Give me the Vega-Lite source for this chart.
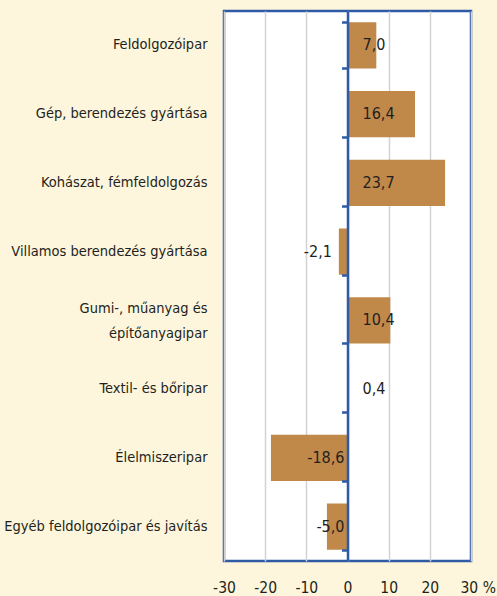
{
  "$schema": "https://vega.github.io/schema/vega-lite/v6.json",
  "width": 247,
  "height": 550,
  "autosize": {"type": "none"},
  "padding": {"left": 224, "top": 11, "right": 26, "bottom": 35},
  "background": "#FDF6DC",
  "config": {
    "view": {"stroke": "#2E5AA6", "strokeWidth": 2.5, "fill": "#FFFFFF"},
    "font": "DejaVu Sans Condensed"
  },
  "data": {
    "values": [
      {"sector": "Feldolgozóipar", "change": 7.0, "label": "7,0"},
      {"sector": "Gép, berendezés gyártása", "change": 16.4, "label": "16,4"},
      {"sector": "Kohászat, fémfeldolgozás", "change": 23.7, "label": "23,7"},
      {"sector": "Villamos berendezés gyártása", "change": -2.1, "label": "-2,1"},
      {"sector": "Gumi-, műanyag és építőanyagipar", "change": 10.4, "label": "10,4"},
      {"sector": "Textil- és bőripar", "change": 0.4, "label": "0,4"},
      {"sector": "Élelmiszeripar", "change": -18.6, "label": "-18,6"},
      {"sector": "Egyéb feldolgozóipar és javítás", "change": -5.0, "label": "-5,0"}
    ]
  },
  "resolve": {"axis": {"y": "independent"}},
  "layer": [
    {
      "mark": {"type": "bar", "color": "#C0894A"},
      "encoding": {
        "y": {
          "field": "sector", "type": "nominal", "sort": null,
          "scale": {"paddingInner": 0.33, "paddingOuter": 0.165},
          "axis": {
            "title": null, "domain": false, "ticks": false,
            "labelPadding": 17, "labelFontSize": 14.5, "labelColor": "#231F20",
            "labelFont": "DejaVu Sans Condensed", "labelLimit": 260, "labelLineHeight": 25,
            "labelOffset": {"condition": {"test": "datum.value == 'Gumi-, műanyag és építőanyagipar'", "value": -11}, "value": 0},
            "labelExpr": "datum.label == 'Gumi-, műanyag és építőanyagipar' ? ['Gumi-, műanyag és', 'építőanyagipar'] : datum.label"
          }
        },
        "x": {
          "field": "change", "type": "quantitative",
          "scale": {"domain": [-30, 30], "nice": false, "zero": false},
          "axis": {
            "title": null, "domain": false, "ticks": false,
            "values": [-30, -20, -10, 0, 10, 20, 30],
            "grid": true, "gridColor": "#D2D2D2", "gridWidth": 1.5,
            "labelFontSize": 15.5, "labelColor": "#231F20", "labelPadding": 19,
            "labelFont": "DejaVu Sans Condensed",
            "labelExpr": "datum.value == 30 ? '30 %' : toString(datum.value)",
            "labelAlign": {"condition": {"test": "datum.value == 30", "value": "left"}, "value": "center"},
            "labelOffset": {"condition": {"test": "datum.value == 30", "value": -11}, "value": 0}
          }
        }
      }
    },
    {
      "transform": [{"filter": "datum.change >= 0"}],
      "mark": {"type": "text", "align": "left", "dx": 15, "fontSize": 16, "color": "#231F20", "font": "DejaVu Sans Condensed"},
      "encoding": {
        "y": {
          "field": "sector", "type": "nominal", "sort": null,
          "axis": {
            "orient": "right", "offset": -123.5, "title": null, "labels": false,
            "domainColor": "#2E5AA6", "domainWidth": 2.5,
            "tickColor": "#2E5AA6", "tickWidth": 2.5, "tickSize": -6,
            "tickBand": "extent", "zindex": 2
          }
        },
        "x": {"datum": 0, "type": "quantitative"},
        "text": {"field": "label"}
      }
    },
    {
      "transform": [{"filter": "datum.change < 0 && datum.change > -3"}],
      "mark": {"type": "text", "align": "right", "dx": -7, "fontSize": 16, "color": "#231F20", "font": "DejaVu Sans Condensed"},
      "encoding": {
        "y": {"field": "sector", "type": "nominal", "sort": null, "axis": null},
        "x": {"field": "change", "type": "quantitative"},
        "text": {"field": "label"}
      }
    },
    {
      "transform": [{"filter": "datum.change <= -3"}],
      "mark": {"type": "text", "align": "right", "dx": -3, "fontSize": 16, "color": "#231F20", "font": "DejaVu Sans Condensed"},
      "encoding": {
        "y": {"field": "sector", "type": "nominal", "sort": null, "axis": null},
        "x": {"datum": 0, "type": "quantitative"},
        "text": {"field": "label"}
      }
    }
  ]
}
